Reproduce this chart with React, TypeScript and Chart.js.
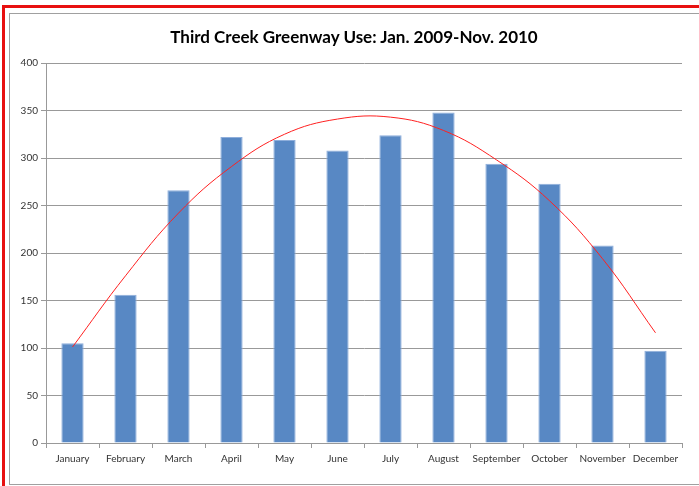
import React, { useEffect, useRef } from "react";
import { Chart, registerables } from "chart.js";

Chart.register(...registerables);

const months = ["January", "February", "March", "April", "May", "June", "July", "August", "September", "October", "November", "December"];
const usage = [105, 156, 266, 322, 319, 308, 324, 348, 294, 273, 208, 97];
const trend = [101, 176, 242, 291, 325, 341, 343, 329, 298, 255, 194, 116];
const yTicks = [0, 50, 100, 150, 200, 250, 300, 350, 400];
const title = "Third Creek Greenway Use: Jan. 2009-Nov. 2010";

export default function App() {
  const ref = useRef<HTMLCanvasElement | null>(null);

  useEffect(() => {
    document.body.style.margin = "0";
    const canvas = ref.current;
    if (!canvas) return;
    const gridColor = "#999999";
    const chart = new Chart(canvas, {
      type: "bar",
      data: {
        labels: months,
        datasets: [
          {
            type: "line",
            label: "Trend",
            data: trend,
            borderColor: "#ff2020",
            borderWidth: 1,
            pointRadius: 0,
            tension: 0.4,
            fill: false,
            order: 0,
          } as any,
          {
            type: "bar",
            label: "Use",
            data: usage,
            backgroundColor: "#5888c4",
            borderColor: "#8eaedb",
            borderWidth: 1,
            categoryPercentage: 1,
            barPercentage: 0.42,
            order: 1,
          } as any,
        ],
      },
      options: {
        responsive: false,
        animation: false,
        layout: { padding: { left: 0, right: 17, top: 63, bottom: 0 } },
        plugins: {
          legend: { display: false },
          tooltip: { enabled: false },
          title: { display: false },
        },
        scales: {
          x: {
            offset: true,
            grid: {
              display: true,
              offset: true,
              drawOnChartArea: false,
              drawTicks: true,
              tickLength: 5,
              tickColor: gridColor,
            },
            border: { display: true, color: gridColor },
            ticks: {
              color: "#333333",
              font: { family: "Lato", size: 10 },
              padding: 5,
              maxRotation: 0,
              autoSkip: false,
            },
            afterFit: (scale: any) => {
              scale.height = 43;
            },
          },
          y: {
            min: 0,
            max: 400,
            afterBuildTicks: (scale: any) => {
              scale.ticks = yTicks.map((v) => ({ value: v }));
            },
            grid: {
              color: gridColor,
              drawTicks: true,
              tickLength: 5,
              tickColor: gridColor,
            },
            border: { display: true, color: gridColor },
            ticks: {
              color: "#333333",
              font: { family: "Lato", size: 10 },
              padding: 3,
            },
            afterFit: (scale: any) => {
              scale.width = 46;
            },
          },
        },
      },
    });
    return () => chart.destroy();
  }, []);

  return (
    <div style={{ position: "relative", width: 699, height: 486, overflow: "hidden", background: "#fff" }}>
      <div style={{ position: "absolute", left: 2, top: 5, width: 1000, height: 1000, border: "3px solid #e81010" }} />
      <div style={{ position: "absolute", left: 9, top: 13, width: 1000, height: 470, border: "1px solid #a0a0a0" }} />
      <canvas ref={ref} width={699} height={486} style={{ position: "absolute", left: 0, top: 0, width: 699, height: 486 }} />
      <div
        style={{
          position: "absolute",
          left: 0,
          top: 26,
          width: 708,
          lineHeight: "22px",
          textAlign: "center",
          fontFamily: "Lato",
          fontWeight: "bold",
          fontSize: 17,
          color: "#000",
        }}
      >
        {title}
      </div>
    </div>
  );
}
